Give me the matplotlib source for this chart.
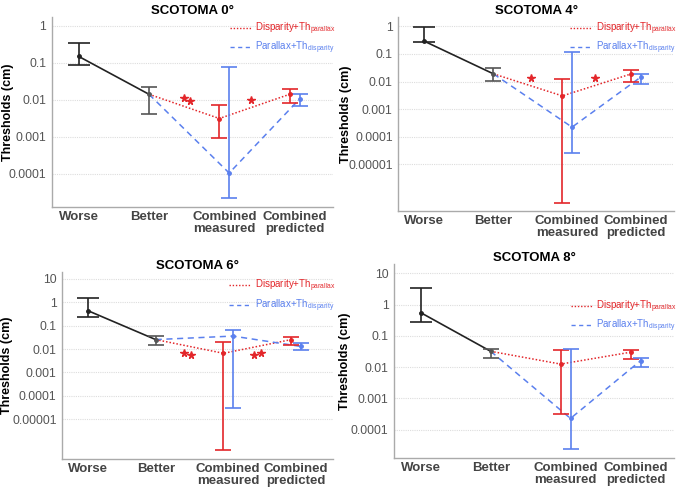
import matplotlib
matplotlib.use("Agg")
import matplotlib.pyplot as plt
from matplotlib.lines import Line2D
from matplotlib.ticker import FixedLocator, NullLocator

plt.rcParams['font.family'] = ['Liberation Sans', 'DejaVu Sans']
plt.rcParams['mathtext.fontset'] = 'custom'
plt.rcParams['mathtext.rm'] = 'Liberation Sans'

categories = ["Worse", "Better", "Combined\nmeasured", "Combined\npredicted"]
titles = ["SCOTOMA 0°", "SCOTOMA 4°", "SCOTOMA 6°", "SCOTOMA 8°"]

# (mean, low, high) per panel
worse = [(0.148, 0.085, 0.34), (0.29, 0.27, 0.95), (0.44, 0.245, 1.48), (0.55, 0.27, 3.4)]
better = [(0.014, 0.0041, 0.022), (0.019, 0.0107, 0.031), (0.0255, 0.0155, 0.035), (0.032, 0.0195, 0.038)]
red_meas = [(0.0031, 0.00093, 0.0072), (0.0030, 4e-7, 0.0123), (0.0066, 4.6e-7, 0.020), (0.0125, 0.00032, 0.036)]
blue_meas = [(0.000104, 2.2e-5, 0.075), (0.00022, 2.5e-5, 0.12), (0.036, 2.9e-5, 0.068), (0.00023, 2.4e-5, 0.039)]
red_pred = [(0.014, 0.0081, 0.020), (0.019, 0.0095, 0.027), (0.0255, 0.0155, 0.032), (0.030, 0.0186, 0.034)]
blue_pred = [(0.0104, 0.0069, 0.014), (0.0147, 0.0081, 0.019), (0.013, 0.0089, 0.019), (0.016, 0.010, 0.019)]

# significance stars: (x, y) per panel
stars = [[(2.5, 0.011), (2.59, 0.0095), (3.45, 0.010)],
         [(2.55, 0.013), (3.47, 0.013)],
         [(2.42, 0.0065), (2.52, 0.0055), (3.45, 0.0058), (3.55, 0.0068)],
         []]

yticks = [[1, 0.1, 0.01, 0.001, 0.0001],
          [1, 0.1, 0.01, 0.001, 0.0001, 0.00001],
          [10, 1, 0.1, 0.01, 0.001, 0.0001, 0.00001],
          [10, 1, 0.1, 0.01, 0.001, 0.0001]]
ytick_labels = [["1", "0.1", "0.01", "0.001", "0.0001"],
                ["1", "0.1", "0.01", "0.001", "0.0001", "0.00001"],
                ["10", "1", "0.1", "0.01", "0.001", "0.0001", "0.00001"],
                ["10", "1", "0.1", "0.01", "0.001", "0.0001"]]
ylims = [(10**-4.9, 10**0.24), (10**-6.7, 10**0.35), (10**-6.7, 10**1.29), (10**-4.9, 10**1.3)]

positions = [[0.076, 0.581, 0.412, 0.385],
             [0.583, 0.573, 0.404, 0.393],
             [0.091, 0.071, 0.397, 0.378],
             [0.577, 0.073, 0.410, 0.393]]
ylabel_x = [-0.135, -0.167, -0.181, -0.154]
legend_y = [1.01, 1.01, 1.0, 0.85]

RED = '#e3262a'
BLUE = '#5b80ee'
GREY = '#555555'

fig = plt.figure(figsize=(6.83, 4.94), dpi=100)

for i in range(4):
    ax = fig.add_axes(positions[i])
    ax.set_yscale('log')

    def eb(x, t, color, cap):
        m, lo, hi = t
        ax.errorbar([x], [m], yerr=[[m - lo], [hi - m]], fmt='o', color=color,
                    ms=2.5, capsize=cap, elinewidth=1.2, capthick=1.2, zorder=3)

    # lines between means
    ax.plot([1, 2], [worse[i][0], better[i][0]], color='#222222', lw=1.2, zorder=2)
    ax.plot([2, 3, 4], [better[i][0], red_meas[i][0], red_pred[i][0]],
            color=RED, lw=1.1, ls=(0, (1, 1.3)), zorder=2)
    ax.plot([2, 3.14, 4.14], [better[i][0], blue_meas[i][0], blue_pred[i][0]],
            color=BLUE, lw=1.1, ls=(0, (4, 3)), zorder=2)

    eb(1, worse[i], '#222222', 8)
    eb(2, better[i], GREY, 6)
    eb(3, red_meas[i], RED, 5.5)
    eb(3.14, blue_meas[i], BLUE, 6)
    eb(4, red_pred[i], RED, 5.5)
    eb(4.14, blue_pred[i], BLUE, 5.5)

    for sx, sy in stars[i]:
        ax.plot(sx, sy, marker='*', color=RED, ms=5.5, ls='none', zorder=4)

    ax.set_xlim(0.62, 4.62)
    ax.set_ylim(*ylims[i])
    ax.yaxis.set_major_locator(FixedLocator(yticks[i]))
    ax.set_yticklabels(ytick_labels[i])
    ax.yaxis.set_minor_locator(NullLocator())
    ax.set_xticks([1, 2, 3.07, 4.07])
    ax.set_xticklabels(categories, fontweight='bold', fontsize=9.5, color='#444444',
                       linespacing=1.0)
    ax.tick_params(axis='y', length=0, pad=4, labelsize=8.8, labelcolor='#555555')
    ax.tick_params(axis='x', length=0, pad=3)
    ax.grid(axis='y', color='#dddddd', ls=(0, (1, 1)), lw=0.8)
    for s in ['top', 'right']:
        ax.spines[s].set_visible(False)
    for s in ['left', 'bottom']:
        ax.spines[s].set_color('#aaaaaa')
        ax.spines[s].set_linewidth(1.0)
    ax.set_ylabel("Thresholds (cm)", fontweight='bold', fontsize=9)
    ax.yaxis.set_label_coords(ylabel_x[i], 0.5)
    ax.set_title(titles[i], fontweight='bold', fontsize=9.5, pad=1)

    handles = [Line2D([], [], color=RED, lw=1.0, ls=(0, (1, 1.3))),
               Line2D([], [], color=BLUE, lw=1.0, ls=(0, (3, 2.5)))]
    labels = [r"Disparity+Th$_{\mathrm{parallax}}$", r"Parallax+Th$_{\mathrm{disparity}}$"]
    leg = ax.legend(handles, labels, loc='upper right', bbox_to_anchor=(1.03, legend_y[i]),
                    frameon=False, fontsize=7, handlelength=2.2, handletextpad=0.4,
                    labelspacing=0.3, borderaxespad=0.2)
    for t, c in zip(leg.get_texts(), [RED, BLUE]):
        t.set_color(c)

fig.savefig("out.png", dpi=100)
